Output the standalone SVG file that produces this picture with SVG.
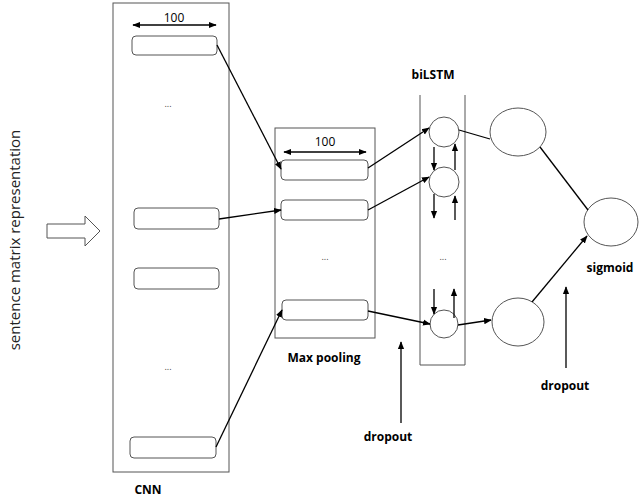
<svg xmlns="http://www.w3.org/2000/svg" width="640" height="501" viewBox="0 0 640 501">
<defs>
<marker id="ah" viewBox="0 0 10 10" refX="9" refY="5" markerWidth="6" markerHeight="6" orient="auto-start-reverse"><path d="M0,1 L10,5 L0,9 z" fill="#000"/></marker>
<style>
.box{fill:none;stroke:#555;stroke-width:1}
.r{fill:#fff;stroke:#555;stroke-width:1}
.c{stroke:#000;stroke-width:1.3;fill:none}
.t{font-family:"Open Sans","DejaVu Sans",sans-serif;font-size:12px;fill:#000;text-anchor:middle}
.b{font-weight:bold}
.d{font-family:"Open Sans",sans-serif;font-size:9px;fill:#444;text-anchor:middle}
</style>
</defs>
<rect width="640" height="501" fill="#fff"/>
<text class="t" transform="translate(20,240) rotate(-90)" style="font-size:15px;fill:#222">sentence matrix representation</text>
<path d="M47,224 H85 V216 L100,231 L85,246 V238 H47 Z" fill="#fff" stroke="#555"/>
<g id="cnn">
<rect class="box" x="113" y="3" width="116" height="469"/>
<line class="c" x1="133" y1="25" x2="216" y2="25" marker-start="url(#ah)" marker-end="url(#ah)"/>
<text class="t" x="174" y="22">100</text>
<rect class="r" x="132" y="36" width="85" height="19" rx="4"/>
<text class="d" x="168" y="107">...</text>
<rect class="r" x="134" y="208" width="85" height="21" rx="4"/>
<rect class="r" x="134" y="268" width="85" height="21" rx="4"/>
<text class="d" x="168" y="370">...</text>
<rect class="r" x="130" y="437" width="86" height="21" rx="4"/>
<text class="t b" x="148" y="494">CNN</text>
</g>
<g id="maxpool">
<rect class="box" x="275" y="128" width="100" height="210"/>
<line class="c" x1="284" y1="152" x2="366" y2="152" marker-start="url(#ah)" marker-end="url(#ah)"/>
<text class="t" x="325" y="146">100</text>
<rect class="r" x="281" y="160" width="87" height="20" rx="4"/>
<rect class="r" x="281" y="200" width="87" height="20" rx="4"/>
<text class="d" x="325" y="260">...</text>
<rect class="r" x="282" y="300" width="86" height="20" rx="4"/>
<text class="t b" x="324" y="362">Max pooling</text>
</g>
<g id="bilstm">
<path class="box" d="M420,95 V365 H465 V95"/>
<text class="t b" x="433" y="79">biLSTM</text>
<circle class="r" cx="444" cy="132" r="15"/>
<circle class="r" cx="444" cy="182" r="15"/>
<circle class="r" cx="444" cy="324" r="14"/>
<text class="d" x="443" y="260">...</text>
<line class="c" x1="434" y1="147" x2="434" y2="170" marker-end="url(#ah)"/>
<line class="c" x1="434" y1="194" x2="434" y2="218" marker-end="url(#ah)"/>
<line class="c" x1="455" y1="220" x2="455" y2="196" marker-end="url(#ah)"/>
<line class="c" x1="455" y1="170" x2="455" y2="144" marker-end="url(#ah)"/>
<line class="c" x1="434" y1="289" x2="434" y2="314" marker-end="url(#ah)"/>
<line class="c" x1="454" y1="318" x2="454" y2="289" marker-end="url(#ah)"/>
</g>
<g id="dense">
<ellipse class="r" cx="518" cy="132" rx="28" ry="24"/>
<ellipse class="r" cx="518" cy="322" rx="26" ry="24"/>
</g>
<g id="sigmoid">
<ellipse class="r" cx="611" cy="222" rx="27" ry="24"/>
<text class="t b" x="610" y="272">sigmoid</text>
</g>
<g id="dropouts">
<line class="c" x1="401" y1="423" x2="401" y2="342" marker-end="url(#ah)"/>
<text class="t b" x="388" y="441">dropout</text>
<line class="c" x1="566" y1="368" x2="566" y2="287" marker-end="url(#ah)"/>
<text class="t b" x="565" y="390">dropout</text>
</g>
<g id="connectors">
<line class="c" x1="217" y1="45" x2="281" y2="169" marker-end="url(#ah)"/>
<line class="c" x1="219" y1="219" x2="281" y2="210" marker-end="url(#ah)"/>
<line class="c" x1="216" y1="447" x2="282" y2="310" marker-end="url(#ah)"/>
<line class="c" x1="368" y1="168" x2="429" y2="128" marker-end="url(#ah)"/>
<line class="c" x1="368" y1="210" x2="429" y2="177" marker-end="url(#ah)"/>
<line class="c" x1="368" y1="311" x2="430" y2="324" marker-end="url(#ah)"/>
<line class="c" x1="459" y1="130" x2="490" y2="139"/>
<line class="c" x1="458" y1="325" x2="491" y2="320" marker-end="url(#ah)"/>
<line class="c" x1="540" y1="147" x2="588" y2="210"/>
<line class="c" x1="532" y1="302" x2="587" y2="236" marker-end="url(#ah)"/>
</g>
</svg>
